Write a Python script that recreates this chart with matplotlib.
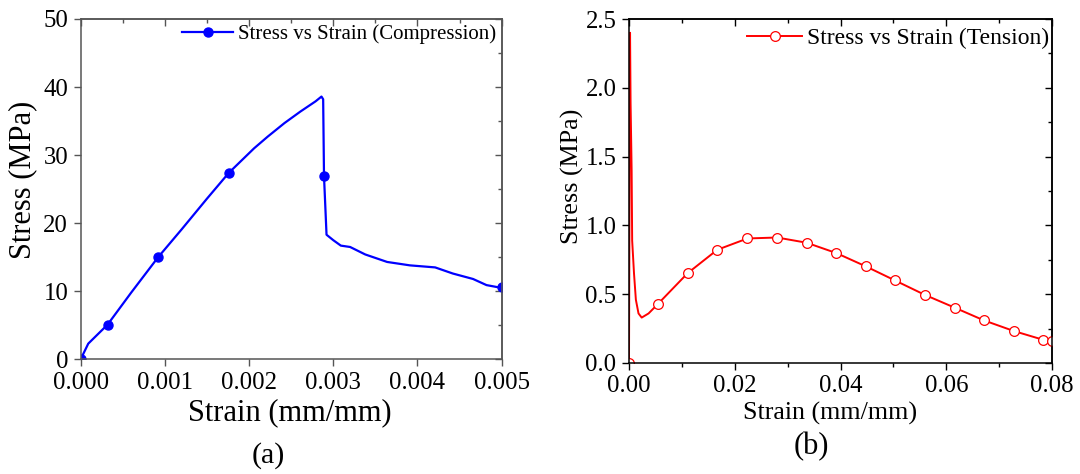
"""Stress-strain curves: (a) compression, (b) tension"""

import matplotlib

matplotlib.use("Agg")
import matplotlib.pyplot as plt
from matplotlib.ticker import MultipleLocator, FormatStrFormatter

plt.rcParams["font.family"] = ["Liberation Serif", "DejaVu Serif"]
plt.rcParams["mathtext.fontset"] = "stix"

# Compression test
comp_strain = [0.0, 0.00009, 0.00032, 0.00060, 0.00092, 0.00120, 0.00150, 0.00176,
               0.00206, 0.00222, 0.00242, 0.00261, 0.00279, 0.00286, 0.00288, 0.00289,
               0.00292, 0.00300, 0.00309, 0.00320, 0.00338, 0.00364, 0.00391, 0.00421,
               0.00442, 0.00466, 0.00482, 0.00495, 0.00500]
comp_stress = [0.0, 2.3, 5.1, 9.8, 15.0, 19.1, 23.6, 27.4,
               31.0, 32.7, 34.7, 36.4, 37.9, 38.6, 38.2, 26.9,
               18.3, 17.5, 16.7, 16.5, 15.4, 14.3, 13.8, 13.5,
               12.6, 11.8, 10.9, 10.6, 10.6]
comp_marks = [0, 2, 4, 7, 15, 28]

# Tension test
tens_strain = [0.0, 0.0002, 0.0003, 0.0005, 0.0006, 0.00095, 0.0013, 0.0018, 0.0024,
               0.0037, 0.0055, 0.0111, 0.0167, 0.0224, 0.0280, 0.0336, 0.0392,
               0.0448, 0.0503, 0.0559, 0.0616, 0.0671, 0.0728, 0.0783, 0.0800]
tens_stress = [0.0, 2.40, 1.89, 1.40, 0.89, 0.65, 0.46, 0.36, 0.33,
               0.36, 0.43, 0.653, 0.823, 0.905, 0.912, 0.874, 0.799,
               0.702, 0.600, 0.496, 0.402, 0.310, 0.232, 0.169, 0.158]
tens_marks = [0] + list(range(10, 25))


def style_axes(ax, xmaj, xmin, ymaj, ymin, xfmt, yfmt, color, tick_size, minor_out):
    ax.xaxis.set_major_locator(MultipleLocator(xmaj))
    ax.yaxis.set_major_locator(MultipleLocator(ymaj))
    if minor_out:
        ax.xaxis.set_minor_locator(MultipleLocator(xmin))
    ax.xaxis.set_major_formatter(FormatStrFormatter(xfmt))
    ax.yaxis.set_major_formatter(FormatStrFormatter(yfmt))
    ax.tick_params(which="major", direction="out", length=5, width=1,
                   color=color, labelsize=tick_size, pad=4)
    ax.tick_params(which="minor", direction="out", length=3, width=1, color=color)
    for sp in ax.spines.values():
        sp.set_color(color)
        sp.set_linewidth(1.1)

    # top / right axes with inward ticks, no labels
    top = ax.secondary_xaxis("top")
    right = ax.secondary_yaxis("right")
    top.xaxis.set_major_locator(MultipleLocator(xmaj))
    top.xaxis.set_minor_locator(MultipleLocator(xmin))
    right.yaxis.set_major_locator(MultipleLocator(ymaj))
    right.yaxis.set_minor_locator(MultipleLocator(ymin))
    for sec in (top, right):
        sec.tick_params(which="major", direction="in", length=5, width=1, color=color,
                        labeltop=False, labelright=False)
        sec.tick_params(which="minor", direction="in", length=3, width=1, color=color)
        for sp in sec.spines.values():
            sp.set_color(color)
            sp.set_linewidth(1.1)


fig = plt.figure(figsize=(10.8, 4.74), dpi=100)

# (a) compression
ax1 = fig.add_axes([0.0747, 0.242, 0.3898, 0.718])
ax1.plot(comp_strain, comp_stress, color="#0000ff", lw=1.6, marker="o", ms=6.5,
         markevery=comp_marks, label="Stress vs Strain (Compression)")
ax1.set_xlim(0, 0.005)
ax1.set_ylim(0, 50)
style_axes(ax1, 0.001, 0.0005, 10, 5, "%.3f", "%d", "#555555", 17.8, False)
ax1.legend(loc="upper right", bbox_to_anchor=(0.988, 0.985), frameon=False,
           fontsize=15, handlelength=2.45, handletextpad=0.26,
           borderpad=0, borderaxespad=0)
fig.text(0.2685, 0.1287, "Strain (mm/mm)", fontsize=22, ha="center", va="center")
fig.text(0.0213, 0.620, "Stress (MPa)", fontsize=22, ha="center", va="center",
         rotation=90)
fig.text(0.248, 0.040, "(a)", fontsize=21.6, ha="center", va="center")

# (b) tension
ax2 = fig.add_axes([0.5824, 0.2342, 0.3917, 0.7257])
ax2.plot(tens_strain, tens_stress, color="#ff0000", lw=1.4, marker="o", ms=7,
         mfc="white", mec="#ff0000", mew=0.9, markevery=tens_marks,
         label="Stress vs Strain (Tension)")
ax2.set_xlim(0, 0.08)
ax2.set_ylim(0, 2.5)
style_axes(ax2, 0.02, 0.01, 0.5, 0.25, "%.2f", "%.1f", "black", 17.8, True)
ax2.legend(loc="upper right", bbox_to_anchor=(0.992, 0.975), frameon=False,
           fontsize=17, handlelength=2.3, handletextpad=0.2,
           borderpad=0, borderaxespad=0)
fig.text(0.769, 0.1287, "Strain (mm/mm)", fontsize=18.7, ha="center", va="center")
fig.text(0.530, 0.629, "Stress (MPa)", fontsize=18.7, ha="center", va="center",
         rotation=90)
fig.text(0.7515, 0.057, "(b)", fontsize=22, ha="center", va="center")

fig.savefig("out.png", dpi=100)
